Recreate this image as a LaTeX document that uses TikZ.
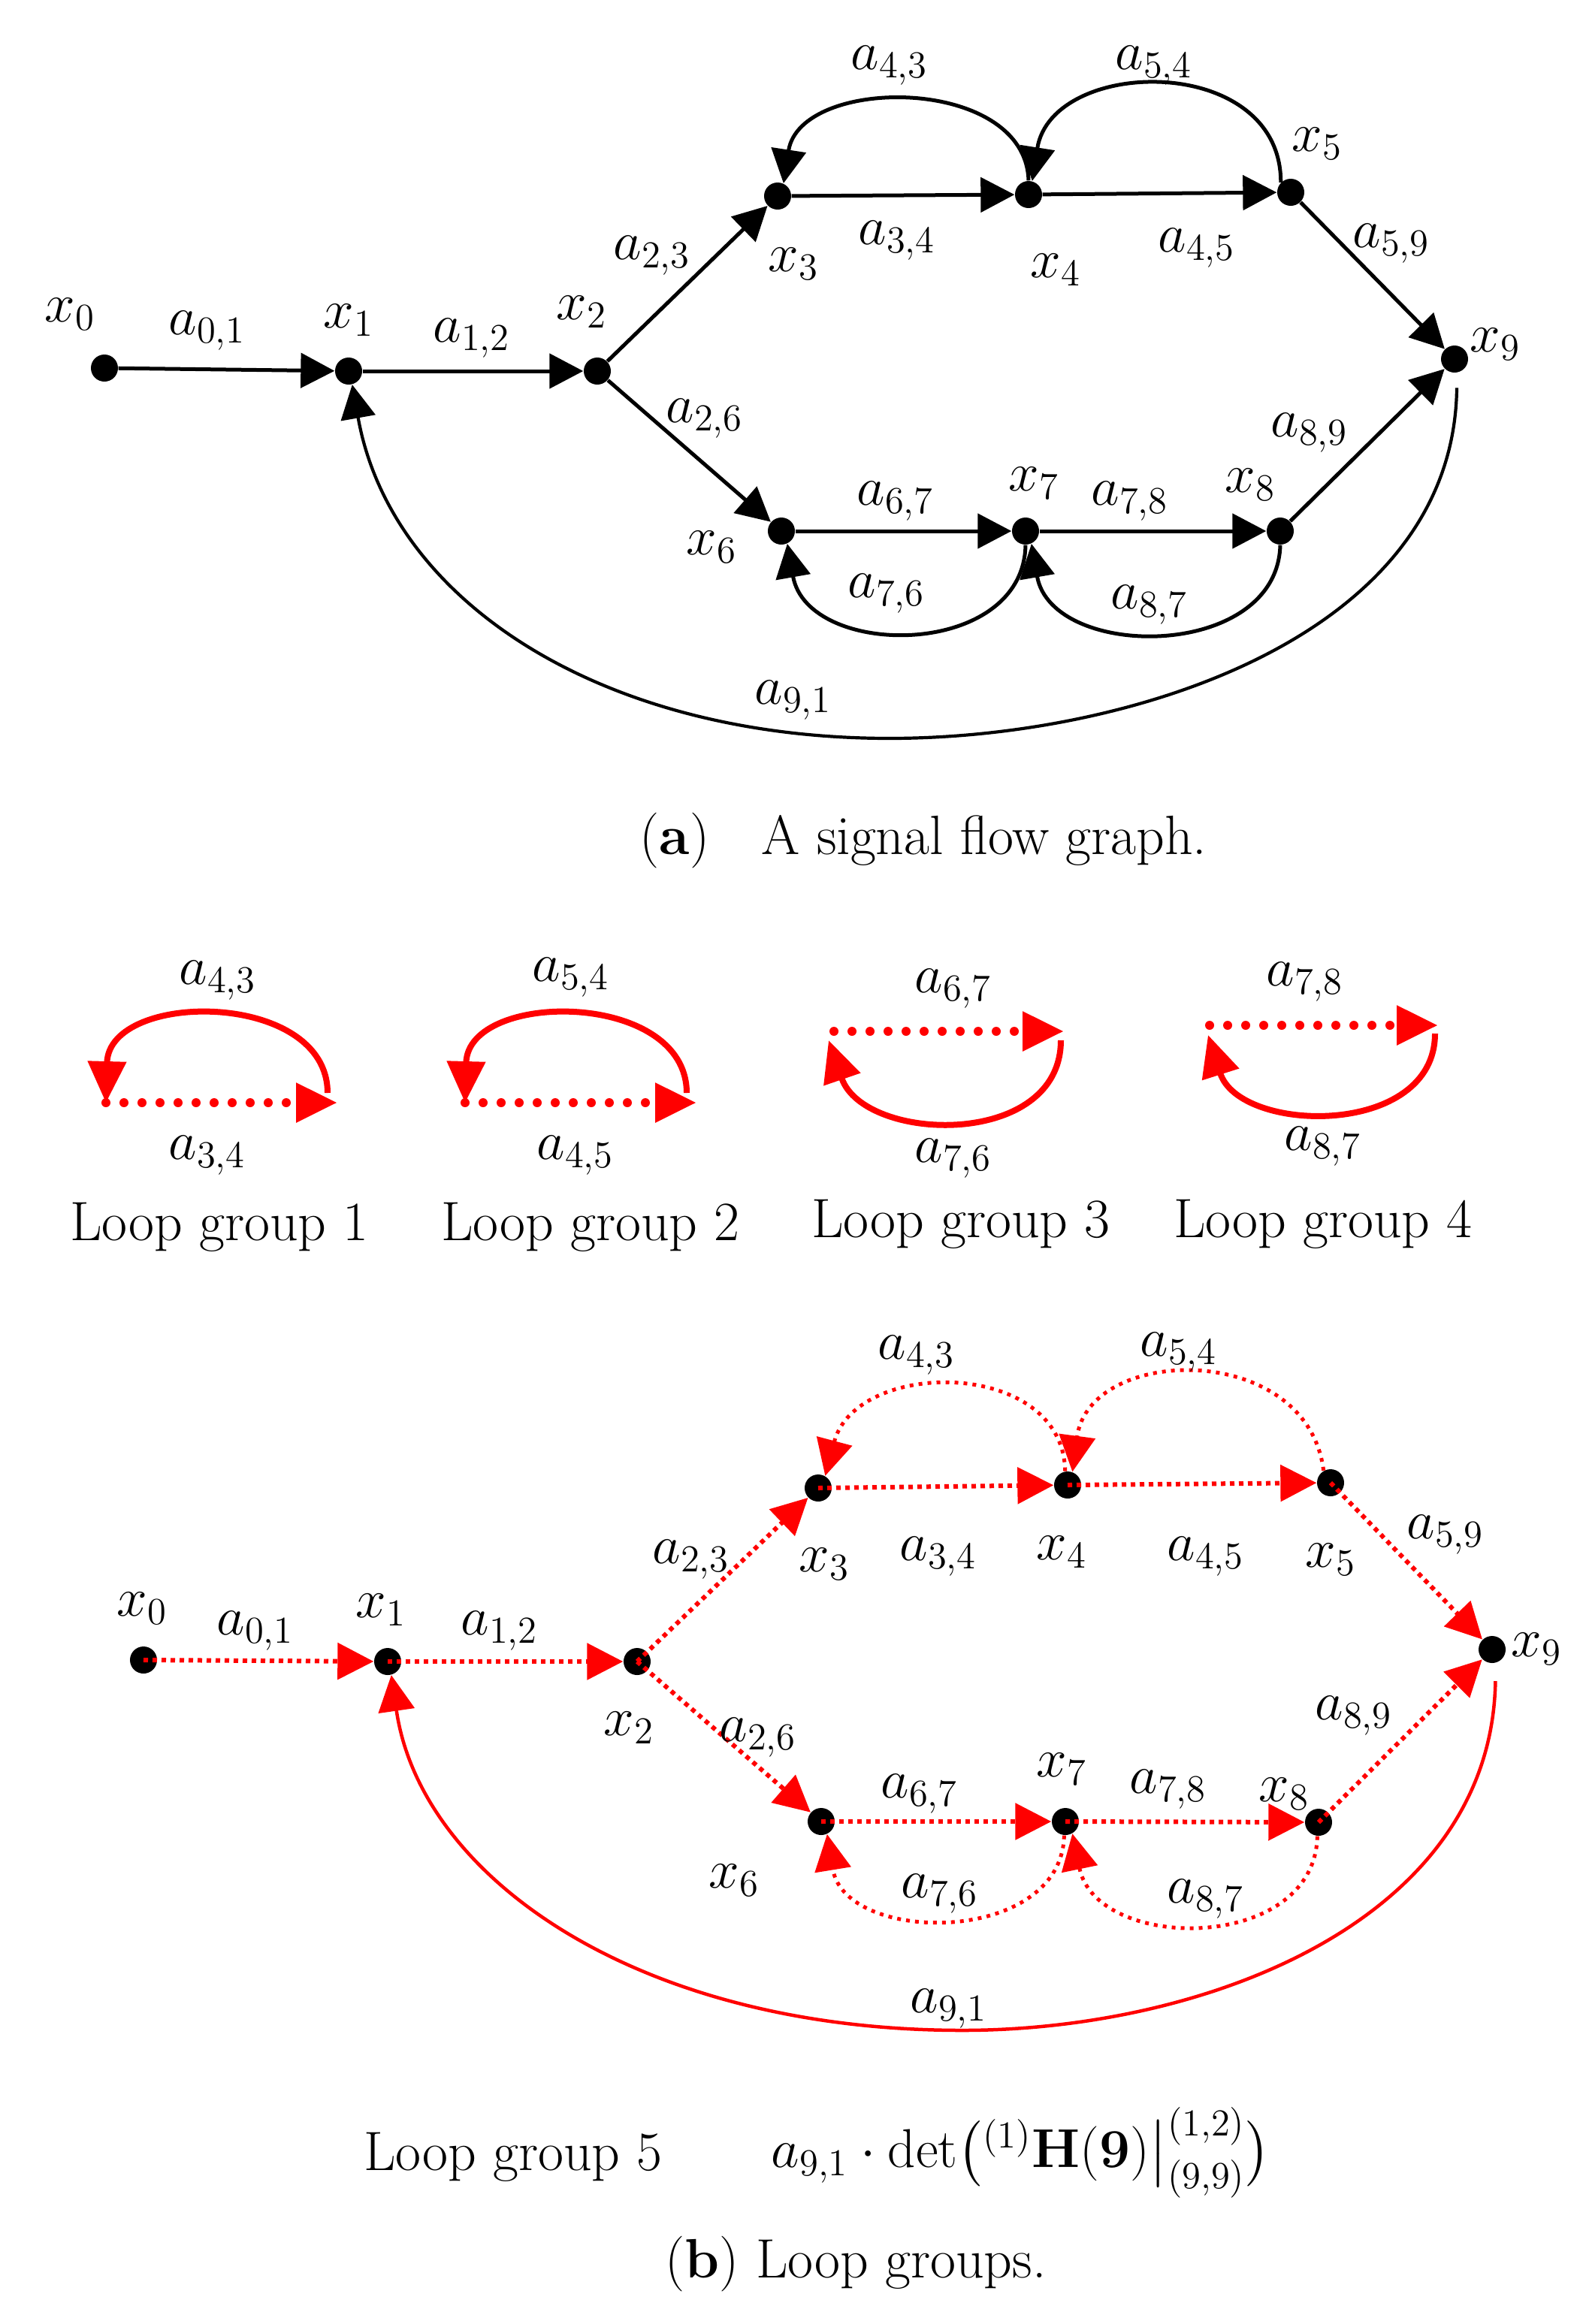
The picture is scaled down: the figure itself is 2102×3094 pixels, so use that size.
\documentclass[tikz,border=0pt]{standalone}
\usepackage{amsmath}
\usetikzlibrary{arrows.meta}
\begin{document}
\begin{tikzpicture}[x=0.1mm,y=-0.1mm,
  dot/.style={circle, fill=black, inner sep=0pt, minimum size=3.6mm},
  lbl/.style={font=\fontsize{21}{25}\selectfont, inner sep=0pt},
  txt/.style={font=\fontsize{21}{25}\selectfont, inner sep=0pt},
  blk/.style={line width=0.5mm, -{Triangle[length=4.5mm,width=4.6mm]}},
  blkarc/.style={line width=0.42mm, -{Triangle[length=4.5mm,width=4.6mm]}},
  redline/.style={red, line width=0.6mm, dash pattern=on 0.6mm off 0.6mm, -{Triangle[length=4.8mm,width=4.8mm]}},
  redarc/.style={red, line width=0.5mm, dash pattern=on 0.5mm off 0.7mm, -{Triangle[length=4.8mm,width=4.8mm]}},
  redsolid/.style={red, line width=0.45mm, -{Triangle[length=4.8mm,width=4.8mm]}},
  lgarc/.style={red, line width=0.8mm, -{Triangle[length=5.5mm,width=5mm]}},
  lgdot/.style={red, line width=1.2mm, line cap=round, dash pattern=on 0mm off 2.4mm, -{Triangle[length=5.5mm,width=5mm]}}
]
\useasboundingbox (0,0) rectangle (2102,3094);

% ===================== (a) =====================
\node[dot] (a0) at (139,490) {};
\node[dot] (a1) at (464,494) {};
\node[dot] (a2) at (795,494) {};
\node[dot] (a3) at (1035,261) {};
\node[dot] (a4) at (1369,259) {};
\node[dot] (a5) at (1718,256) {};
\node[dot] (a9) at (1936,478) {};
\node[dot] (a6) at (1040,707) {};
\node[dot] (a7) at (1365,707) {};
\node[dot] (a8) at (1704,707) {};

\draw[blk] (a0) -- (a1);
\draw[blk] (a1) -- (a2);
\draw[blk] (a2) -- (a3);
\draw[blk] (a2) -- (a6);
\draw[blk] (a3) -- (a4);
\draw[blk] (a4) -- (a5);
\draw[blk] (a5) -- (a9);
\draw[blk] (a6) -- (a7);
\draw[blk] (a7) -- (a8);
\draw[blk] (a8) -- (a9);
\draw[blk] (a4.north) .. controls (1365,100) and (1065,100) .. (a3.65);
\draw[blk] (a5.135) .. controls (1705,70) and (1400,75) .. (a4.75);
\draw[blk] (a7.south) .. controls (1362,878) and (1075,878) .. (a6.-65);
\draw[blk] (a8.south) .. controls (1700,880) and (1400,880) .. (a7.-65);
\draw[blkarc, shorten <=2mm] (a9.-80) .. controls (1935,850) and (1500,983) .. (1184,983)
   .. controls (800,983) and (520,800) .. (a1.-75);

\node[lbl] (la0) at (93,418) {$x_0$};
\node[lbl] (la01) at (276,440) {$a_{0,1}$};
\node[lbl] (la1) at (464,426) {$x_1$};
\node[lbl] (la12) at (628,450) {$a_{1,2}$};
\node[lbl] (la2) at (774,415) {$x_2$};
\node[lbl] (la23) at (868,340) {$a_{2,3}$};
\node[lbl] (la26) at (938,557) {$a_{2,6}$};
\node[lbl] (la3) at (1056,351) {$x_3$};
\node[lbl] (la34) at (1194,320) {$a_{3,4}$};
\node[lbl] (la43) at (1184,87) {$a_{4,3}$};
\node[lbl] (la4) at (1405,359) {$x_4$};
\node[lbl] (la54) at (1536,87) {$a_{5,4}$};
\node[lbl] (la5) at (1753,191) {$x_5$};
\node[lbl] (la45) at (1593,330) {$a_{4,5}$};
\node[lbl] (la59) at (1852,324) {$a_{5,9}$};
\node[lbl] (la9) at (1990,458) {$x_9$};
\node[lbl] (la89) at (1743,576) {$a_{8,9}$};
\node[lbl] (la7) at (1376,643) {$x_7$};
\node[lbl] (la67) at (1192,667) {$a_{6,7}$};
\node[lbl] (la78) at (1504,667) {$a_{7,8}$};
\node[lbl] (la8) at (1664,645) {$x_8$};
\node[lbl] (la6) at (947,728) {$x_6$};
\node[lbl] (la76) at (1180,790) {$a_{7,6}$};
\node[lbl] (la87) at (1530,805) {$a_{8,7}$};
\node[lbl] (la91) at (1056,932) {$a_{9,1}$};

\node[txt] (capa) at (898,1119) {(\textbf{a})};
\node[txt, anchor=west] (capa2) at (1013,1119) {A signal flow graph.};

% ===================== loop groups 1-4 =====================
\coordinate (g1l) at (141,1468);
\coordinate (g1r) at (449,1468);
\coordinate (g1s) at (436,1455);
\draw[lgdot] (g1l) -- (g1r);
\draw[lgarc] (g1s) .. controls (436,1318) and (145,1318) .. (g1l);

\coordinate (g2l) at (619,1468);
\coordinate (g2r) at (927,1468);
\coordinate (g2s) at (914,1455);
\draw[lgdot] (g2l) -- (g2r);
\draw[lgarc] (g2s) .. controls (914,1318) and (623,1318) .. (g2l);

\coordinate (g3l) at (1110,1373);
\coordinate (g3r) at (1416,1373);
\coordinate (g3s) at (1412,1385);
\coordinate (g3a) at (1103,1385);
\draw[lgdot] (g3l) -- (g3r);
\draw[lgarc] (g3s) .. controls (1412,1530) and (1150,1522) .. (g3a);

\coordinate (g4l) at (1610,1365);
\coordinate (g4r) at (1914,1365);
\coordinate (g4s) at (1910,1376);
\coordinate (g4a) at (1608,1378);
\draw[lgdot] (g4l) -- (g4r);
\draw[lgarc] (g4s) .. controls (1910,1515) and (1650,1510) .. (g4a);

\node[lbl] (lg43) at (290,1305) {$a_{4,3}$};
\node[lbl] (lg34) at (276,1538) {$a_{3,4}$};
\node[txt] (lgt1) at (292,1634) {Loop group 1};
\node[lbl] (lg54) at (760,1301) {$a_{5,4}$};
\node[lbl] (lg45) at (766,1538) {$a_{4,5}$};
\node[txt] (lgt2) at (786,1634) {Loop group 2};
\node[lbl] (lg67) at (1269,1316) {$a_{6,7}$};
\node[lbl] (lg76) at (1269,1542) {$a_{7,6}$};
\node[txt] (lgt3) at (1279,1630) {Loop group 3};
\node[lbl] (lg78) at (1737,1307) {$a_{7,8}$};
\node[lbl] (lg87) at (1761,1526) {$a_{8,7}$};
\node[txt] (lgt4) at (1761,1630) {Loop group 4};

% ===================== loop group 5 =====================
\node[dot] (b0) at (191,2210) {};
\node[dot] (b1) at (516,2212) {};
\node[dot] (b2) at (848,2212) {};
\node[dot] (b3) at (1089,1981) {};
\node[dot] (b4) at (1421,1977) {};
\node[dot] (b5) at (1771,1974) {};
\node[dot] (b9) at (1986,2196) {};
\node[dot] (b6) at (1093,2425) {};
\node[dot] (b7) at (1418,2425) {};
\node[dot] (b8) at (1755,2426) {};

\draw[redline] (b0.center) -- (b1);
\draw[redline] (b1.center) -- (b2);
\draw[redline] (b2.center) -- (b3);
\draw[redline] (b2.center) -- (b6);
\draw[redline] (b3.center) -- (b4);
\draw[redline] (b4.center) -- (b5);
\draw[redline] (b5.center) -- (b9);
\draw[redline] (b6.center) -- (b7);
\draw[redline] (b7.center) -- (b8);
\draw[redline] (b8.center) -- (b9);
\draw[redarc] (b4.100) .. controls (1415,1808) and (1140,1808) .. (b3.60);
\draw[redarc] (b5.120) .. controls (1740,1785) and (1450,1790) .. (b4.70);
\draw[redarc] (b7.-95) .. controls (1413,2590) and (1125,2590) .. (b6.-65);
\draw[redarc] (b8.-95) .. controls (1750,2600) and (1460,2600) .. (b7.-60);
\draw[redsolid, shorten <=2.4mm] (b9.-75) .. controls (1985,2560) and (1600,2703) .. (1281,2703)
   .. controls (850,2703) and (560,2500) .. (b1.-75);

\node[lbl] (lb0) at (189,2141) {$x_0$};
\node[lbl] (lb01) at (340,2171) {$a_{0,1}$};
\node[lbl] (lb1) at (507,2143) {$x_1$};
\node[lbl] (lb12) at (665,2171) {$a_{1,2}$};
\node[lbl] (lb2) at (837,2300) {$x_2$};
\node[lbl] (lb23) at (920,2076) {$a_{2,3}$};
\node[lbl] (lb26) at (1009,2313) {$a_{2,6}$};
\node[lbl] (lb3) at (1097,2082) {$x_3$};
\node[lbl] (lb34) at (1249,2072) {$a_{3,4}$};
\node[lbl] (lb4) at (1413,2066) {$x_4$};
\node[lbl] (lb45) at (1605,2072) {$a_{4,5}$};
\node[lbl] (lb5) at (1771,2076) {$x_5$};
\node[lbl] (lb59) at (1924,2043) {$a_{5,9}$};
\node[lbl] (lb9) at (2045,2195) {$x_9$};
\node[lbl] (lb89) at (1802,2284) {$a_{8,9}$};
\node[lbl] (lb43) at (1220,1804) {$a_{4,3}$};
\node[lbl] (lb54) at (1569,1800) {$a_{5,4}$};
\node[lbl] (lb7) at (1413,2355) {$x_7$};
\node[lbl] (lb67) at (1224,2388) {$a_{6,7}$};
\node[lbl] (lb78) at (1555,2382) {$a_{7,8}$};
\node[lbl] (lb8) at (1709,2388) {$x_8$};
\node[lbl] (lb6) at (977,2503) {$x_6$};
\node[lbl] (lb76) at (1251,2521) {$a_{7,6}$};
\node[lbl] (lb87) at (1605,2528) {$a_{8,7}$};
\node[lbl] (lb91) at (1263,2674) {$a_{9,1}$};

\node[txt] (lgt5) at (683,2872) {Loop group 5};
\node[lbl] (form) at (1359,2866) {$a_{9,1}\cdot\det\bigl({}^{(1)}\mathbf{H(9)}\big|^{(1,2)}_{(9,9)}\bigr)$};
\node[txt] (capb) at (1139,3014) {(\textbf{b}) Loop groups.};
\end{tikzpicture}
\end{document}
